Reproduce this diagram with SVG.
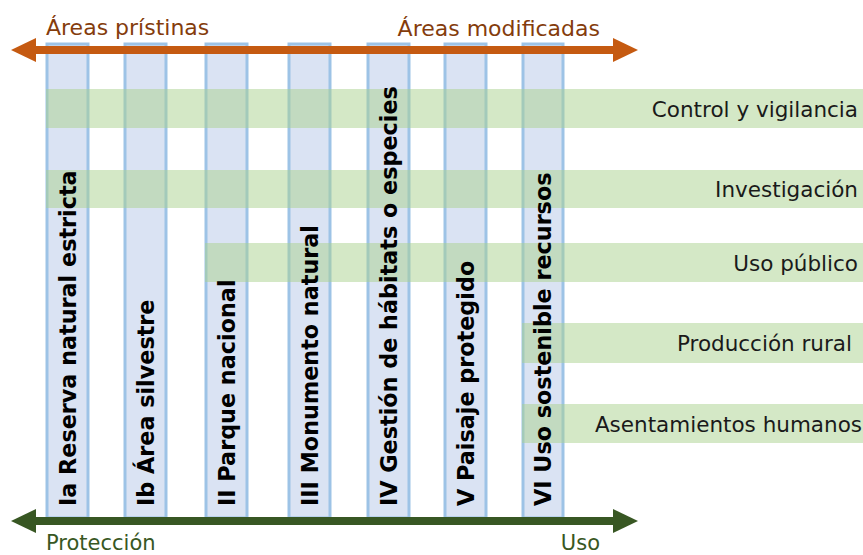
<svg xmlns="http://www.w3.org/2000/svg" width="863" height="555" viewBox="0 0 863 555">
  <style>
    .col rect { fill: #dae3f3; stroke: #9dc3e6; stroke-width: 3; }
    .band { fill: #a9d18e; opacity: 0.5; }
    .vlabel { font-family: "DejaVu Sans", Verdana, sans-serif; font-weight: bold; font-size: 22.3px; fill: #000; }
    .hlabel { font-family: "DejaVu Sans", Verdana, sans-serif; font-size: 21.5px; fill: #1a1a1a; text-anchor: end; }
    .top { font-family: "DejaVu Sans", Verdana, sans-serif; font-size: 22px; fill: #843c0c; }
    .bot { font-family: "DejaVu Sans", Verdana, sans-serif; font-size: 21px; fill: #385723; }
    .arrow-o { stroke: #c55a11; stroke-width: 8; fill: none; }
    .arrow-g { stroke: #385723; stroke-width: 8; fill: none; }
  </style>
  <defs>
    <marker id="headO" markerUnits="userSpaceOnUse" markerWidth="26" markerHeight="26" refX="0" refY="12" orient="auto-start-reverse" viewBox="0 0 26 24">
      <path d="M0,0 L25,12 L0,24 Z" fill="#c55a11"/>
    </marker>
    <marker id="headG" markerUnits="userSpaceOnUse" markerWidth="26" markerHeight="26" refX="0" refY="12" orient="auto-start-reverse" viewBox="0 0 26 24">
      <path d="M0,0 L25,12 L0,24 Z" fill="#385723"/>
    </marker>
  </defs>
  <rect width="863" height="555" fill="#ffffff"/>

  <!-- columns -->
  <g id="col-Ia" class="col"><rect x="47" y="44" width="41" height="474"/></g>
  <g id="col-Ib" class="col"><rect x="125" y="44" width="41" height="474"/></g>
  <g id="col-II" class="col"><rect x="206" y="44" width="41" height="474"/></g>
  <g id="col-III" class="col"><rect x="289" y="44" width="41" height="474"/></g>
  <g id="col-IV" class="col"><rect x="368" y="44" width="41" height="474"/></g>
  <g id="col-V" class="col"><rect x="445" y="44" width="41" height="474"/></g>
  <g id="col-VI" class="col"><rect x="523" y="44" width="40" height="474"/></g>

  <!-- bands -->
  <g id="band-control"><rect class="band" x="46" y="89" width="817" height="39"/><text class="hlabel" x="858" y="117">Control y vigilancia</text></g>
  <g id="band-investigacion"><rect class="band" x="46" y="170" width="817" height="38"/><text class="hlabel" x="858" y="197">Investigación</text></g>
  <g id="band-uso-publico"><rect class="band" x="205" y="243" width="658" height="39"/><text class="hlabel" x="858" y="271">Uso público</text></g>
  <g id="band-produccion"><rect class="band" x="522" y="323" width="341" height="40"/><text class="hlabel" x="852" y="351">Producción rural</text></g>
  <g id="band-asentamientos"><rect class="band" x="522" y="404" width="341" height="39"/><text class="hlabel" x="862" y="432">Asentamientos humanos</text></g>

  <!-- column labels -->
  <g id="label-Ia"><text class="vlabel" transform="translate(76,506) rotate(-90)">Ia Reserva natural estricta</text></g>
  <g id="label-Ib"><text class="vlabel" transform="translate(154,506) rotate(-90)">Ib Área silvestre</text></g>
  <g id="label-II"><text class="vlabel" transform="translate(235,506) rotate(-90)">II Parque nacional</text></g>
  <g id="label-III"><text class="vlabel" transform="translate(318,506) rotate(-90)">III Monumento natural</text></g>
  <g id="label-IV"><text class="vlabel" transform="translate(397,506) rotate(-90)">IV Gestión de hábitats o especies</text></g>
  <g id="label-V"><text class="vlabel" transform="translate(474,506) rotate(-90)">V Paisaje protegido</text></g>
  <g id="label-VI"><text class="vlabel" transform="translate(551,506) rotate(-90)">VI Uso sostenible recursos</text></g>

  <!-- connectors -->
  <g id="connectors">
    <line class="arrow-o" x1="36" y1="50" x2="613" y2="50" marker-start="url(#headO)" marker-end="url(#headO)"/>
    <line class="arrow-g" x1="36" y1="521" x2="613" y2="521" marker-start="url(#headG)" marker-end="url(#headG)"/>
  </g>

  <g id="axis-labels">
    <text class="top" x="46" y="35">Áreas prístinas</text>
    <text class="top" x="600" y="36" text-anchor="end">Áreas modificadas</text>
    <text class="bot" x="46" y="550">Protección</text>
    <text class="bot" x="600" y="550" text-anchor="end">Uso</text>
  </g>
</svg>
